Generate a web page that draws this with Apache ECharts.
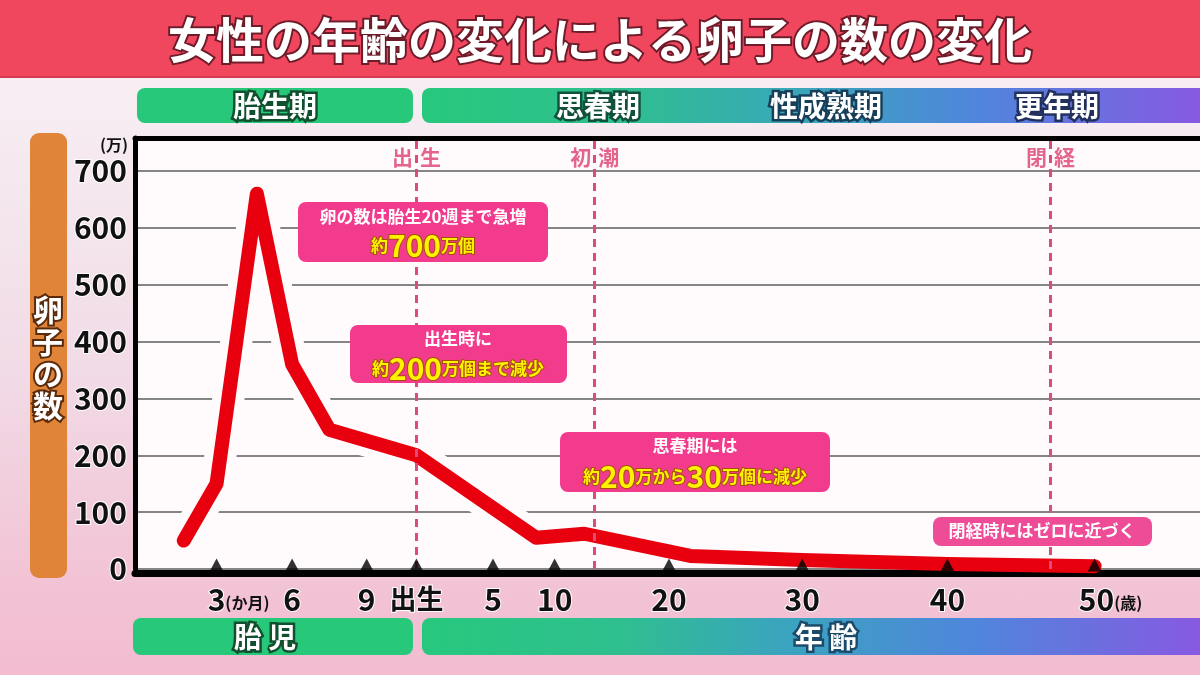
<!DOCTYPE html>
<html><head><meta charset="utf-8">
<script src="https://cdn.jsdelivr.net/npm/echarts@6/dist/echarts.min.js"></script>
<style>
html,body{margin:0;padding:0;}
#c{width:1200px;height:675px;background:linear-gradient(to bottom,#f8f0f4 0%,#f6ecf1 18%,#f1dbe6 55%,#f2c4d6 85%,#f3bcd0 100%);}
</style>
</head><body><div id="c"></div>
<script>
// ---- data ----
const prenatalMonths = [1.7, 3, 4.6, 6, 7.5];          // months of pregnancy
const prenatalEggs   = [50, 150, 660, 360, 245];       // 万個
const postnatalYears = [0, 8.5, 12.6, 21.6, 30, 40, 50]; // age in years
const postnatalEggs  = [200, 55, 62, 23, 16, 9, 5];     // 万個

const tickLabels = ['3', '6', '9', '出生', '5', '10', '20', '30', '40', '50'];
const tickPrenatalMonths = [3, 6, 9];
const tickYears = [0, 5, 10, 20, 30, 40, 50];

const eventLabels = ['出生', '初潮', '閉経'];
const eventYears  = [0, 13.5, 47];

const yTicks = [0, 100, 200, 300, 400, 500, 600, 700];

// ---- piecewise x scale of the original (age in years, prenatal negative) ----
const ageScale = {
  domain: [-10/12, -7/12, -4/12, -1/12, 0, 5, 10, 20, 30, 40, 50],
  range:  [6, 82, 158, 233, 283, 360, 422, 537, 671, 817, 965]
};
function toX(age) {
  const d = ageScale.domain, r = ageScale.range;
  if (age <= d[0]) return r[0];
  for (let i = 1; i < d.length; i++) {
    if (age <= d[i]) return r[i-1] + (age - d[i-1]) / (d[i] - d[i-1]) * (r[i] - r[i-1]);
  }
  const n = d.length - 1;
  return r[n] + (age - d[n]) / (d[n] - d[n-1]) * (r[n] - r[n-1]);
}
const monthToAge = m => (m - 10) / 12;

const lineData = prenatalMonths.map((m, i) => [toX(monthToAge(m)), prenatalEggs[i]])
  .concat(postnatalYears.map((y, i) => [toX(y), postnatalEggs[i]]));
const tickXs = tickPrenatalMonths.map(m => toX(monthToAge(m))).concat(tickYears.map(toX));

const NUM = "'Liberation Sans Narrow','Noto Sans CJK JP',sans-serif";
const JP = "'Noto Sans CJK JP','Noto Sans',sans-serif";
const PLOT_BG = '#fffbfd';
const XMAX = 1071;

function findTick(v) {
  let best = 0;
  for (let i = 0; i < tickXs.length; i++) if (Math.abs(tickXs[i] - v) < Math.abs(tickXs[best] - v)) best = i;
  return best;
}

const numStyle = {fontSize: 30, fontWeight: 'bold', fontFamily: NUM, color: '#111', textBorderColor: '#fff', textBorderWidth: 2};
const boxFill = '#f23b8c';
const yellow = {fill: '#fff200', stroke: '#a4500a', lineWidth: 2, fontFamily: JP, fontWeight: 'bold'};

function boxText(x, y, rich, text) {
  return {type: 'text', x: x, y: y, z: 51,
    style: {text: text, rich: rich, align: 'center', verticalAlign: 'middle'}};
}

const chart = echarts.init(document.getElementById('c'), null, {renderer: 'canvas'});
chart.setOption({
  animation: false,
  backgroundColor: 'transparent',
  grid: {left: 135, top: 138, right: -6, bottom: 106, show: true, backgroundColor: PLOT_BG, borderWidth: 0},
  xAxis: [{
    type: 'value', min: 0, max: XMAX, position: 'bottom', offset: 4,
    axisLine: {show: true, onZero: false, lineStyle: {color: '#000', width: 7}},
    axisTick: {show: false}, splitLine: {show: false},
    axisLabel: {
      customValues: tickXs, margin: 12,
      formatter: function (v) {
        const i = findTick(v), lab = tickLabels[i];
        if (i === 0) return '{pad1|}{n|' + lab + '}{u|(か月)}';
        if (i === tickLabels.length - 1) return '{pad2|}{n|' + lab + '}{u|(歳)}';
        if (lab === '出生') return '{c|' + lab + '}';
        return '{n|' + lab + '}';
      },
      rich: {
        n: numStyle,
        c: {fontSize: 27, fontWeight: 'bold', fontFamily: JP, color: '#111', textBorderColor: '#fff', textBorderWidth: 2},
        u: {fontSize: 16, fontWeight: 'bold', fontFamily: JP, color: '#111', padding: [6, 0, 0, 0]},
        pad1: {width: 44}, pad2: {width: 32}
      }
    }
  }, {
    type: 'value', min: 0, max: XMAX, position: 'top',
    axisLine: {show: true, onZero: false, lineStyle: {color: '#000', width: 5}},
    axisTick: {show: false}, axisLabel: {show: false}, splitLine: {show: false}
  }],
  yAxis: {
    type: 'value', min: 0, max: 758, interval: 100,
    axisLine: {show: true, onZero: false, lineStyle: {color: '#000', width: 5}},
    axisTick: {show: false},
    splitLine: {lineStyle: {color: '#858585', width: 2}},
    axisLabel: Object.assign({margin: 8, formatter: v => (yTicks.indexOf(v) >= 0 ? String(v) : '')}, numStyle)
  },
  series: [
    { // guide dashed lines
      type: 'line', data: lineData, z: 1, silent: true, showSymbol: false,
      lineStyle: {opacity: 0, width: 0},
      markLine: {
        symbol: 'none', silent: true, label: {show: false},
        lineStyle: {color: '#de4a7c', width: 3, type: [8, 6]},
        data: eventYears.map(a => ({xAxis: toX(a)}))
      }
    },
    { // halo under the curve
      type: 'line', data: lineData.slice(0, 7), z: 2, silent: true, showSymbol: false,
      lineStyle: {color: PLOT_BG, width: 32, cap: 'round', join: 'round'}
    },
    { // the curve
      type: 'line', data: lineData, z: 3, silent: true, showSymbol: false,
      lineStyle: {color: '#e8000e', width: 14, cap: 'round', join: 'round'}
    },
    { // tick triangles
      type: 'scatter', data: tickXs.map(x => [x, 0]), z: 5, silent: true,
      symbol: 'triangle', symbolSize: [14, 13], symbolOffset: [0, -4],
      itemStyle: {color: '#000'}
    },
    { // event labels
      type: 'scatter', z: 6, silent: true, symbolSize: 0,
      data: eventYears.map((a, i) => [toX(a), 725, eventLabels[i]]),
      label: {
        show: true, position: 'inside',
        formatter: p => '{a|' + p.value[2][0] + '}{g|}{a|' + p.value[2][1] + '}',
        rich: {a: {color: '#dd3f6f', fontSize: 21, fontWeight: 'bold', fontFamily: JP}, g: {width: 7}}
      }
    }
  ],
  graphic: [
    // title bar
    {type: 'rect', shape: {x: 0, y: 0, width: 1200, height: 78}, style: {fill: '#f1475e'}, z: 10},
    {type: 'rect', shape: {x: 0, y: 76, width: 1200, height: 2}, style: {fill: '#d63a50'}, z: 10},
    {type: 'text', x: 600, y: 40, z: 11, style: {text: '女性の年齢の変化による卵子の数の変化', fill: '#fff', stroke: '#6e1c2a', lineWidth: 4,
      font: 'bold 48px ' + JP, align: 'center', verticalAlign: 'middle'}},
    // stage bars (top)
    {type: 'rect', shape: {x: 137, y: 88, width: 276, height: 35, r: 8}, style: {fill: '#27c87a'}, z: 10},
    {type: 'rect', shape: {x: 422, y: 88, width: 790, height: 35, r: [8, 0, 0, 8]}, z: 10,
      style: {fill: {type: 'linear', x: 0, y: 0, x2: 1, y2: 0, colorStops: [
        {offset: 0, color: '#27c87d'}, {offset: 0.25, color: '#2fbf8f'}, {offset: 0.45, color: '#38aab5'},
        {offset: 0.7, color: '#4f86dc'}, {offset: 1, color: '#8a57e2'}]}}},
    {type: 'text', x: 275, y: 106, z: 11, style: {text: '胎生期', fill: '#fff', stroke: '#11502f', lineWidth: 5, font: 'bold 28px ' + JP, align: 'center', verticalAlign: 'middle'}},
    {type: 'text', x: 598, y: 106, z: 11, style: {text: '思春期', fill: '#fff', stroke: '#11503a', lineWidth: 5, font: 'bold 28px ' + JP, align: 'center', verticalAlign: 'middle'}},
    {type: 'text', x: 826, y: 106, z: 11, style: {text: '性成熟期', fill: '#fff', stroke: '#173f5a', lineWidth: 5, font: 'bold 28px ' + JP, align: 'center', verticalAlign: 'middle'}},
    {type: 'text', x: 1057, y: 106, z: 11, style: {text: '更年期', fill: '#fff', stroke: '#22305e', lineWidth: 5, font: 'bold 28px ' + JP, align: 'center', verticalAlign: 'middle'}},
    // bottom bars
    {type: 'rect', shape: {x: 133, y: 618, width: 280, height: 37, r: 8}, style: {fill: '#27c87a'}, z: 10},
    {type: 'rect', shape: {x: 422, y: 618, width: 790, height: 37, r: [8, 0, 0, 8]}, z: 10,
      style: {fill: {type: 'linear', x: 0, y: 0, x2: 1, y2: 0, colorStops: [
        {offset: 0, color: '#27c87d'}, {offset: 0.25, color: '#2fbf8f'}, {offset: 0.45, color: '#3aa5bd'},
        {offset: 0.7, color: '#4f86dc'}, {offset: 1, color: '#8a57e2'}]}}},
    {type: 'text', x: 265, y: 637, z: 11, style: {text: '胎 児', fill: '#fff', stroke: '#11502f', lineWidth: 5, font: 'bold 28px ' + JP, align: 'center', verticalAlign: 'middle'}},
    {type: 'text', x: 826, y: 637, z: 11, style: {text: '年 齢', fill: '#fff', stroke: '#1b4a6a', lineWidth: 5, font: 'bold 28px ' + JP, align: 'center', verticalAlign: 'middle'}},
    // y axis title bar
    {type: 'rect', shape: {x: 30, y: 133, width: 37, height: 445, r: 9}, style: {fill: '#e0843a'}, z: 10},
    {type: 'text', x: 48, y: 358, z: 11, style: {text: '卵\n子\nの\n数', fill: '#fff', stroke: '#5a2a0a', lineWidth: 4,
      font: 'bold 30px ' + JP, lineHeight: 32, align: 'center', verticalAlign: 'middle'}},
    {type: 'text', x: 128, y: 145, z: 11, style: {text: '(万)', fill: '#111', font: 'bold 16px ' + JP, align: 'right', verticalAlign: 'middle'}},
    // annotation boxes
    {type: 'rect', shape: {x: 298, y: 202, width: 250, height: 60, r: 8}, style: {fill: boxFill}, z: 50},
    boxText(423, 217, {w: {fill: '#fff', fontSize: 17, fontFamily: JP, fontWeight: 'bold'}}, '{w|卵の数は胎生20週まで急増}'),
    boxText(423, 246, {s: Object.assign({fontSize: 17}, yellow), b: Object.assign({fontSize: 30}, yellow)}, '{s|約}{b|700}{s|万個}'),
    {type: 'rect', shape: {x: 350, y: 325, width: 217, height: 58, r: 8}, style: {fill: boxFill}, z: 50},
    boxText(458, 339, {w: {fill: '#fff', fontSize: 17, fontFamily: JP, fontWeight: 'bold'}}, '{w|出生時に}'),
    boxText(458, 369, {s: Object.assign({fontSize: 17}, yellow), b: Object.assign({fontSize: 30}, yellow)}, '{s|約}{b|200}{s|万個まで減少}'),
    {type: 'rect', shape: {x: 560, y: 432, width: 270, height: 60, r: 8}, style: {fill: boxFill}, z: 50},
    boxText(695, 446, {w: {fill: '#fff', fontSize: 17, fontFamily: JP, fontWeight: 'bold'}}, '{w|思春期には}'),
    boxText(695, 477, {s: Object.assign({fontSize: 17}, yellow), b: Object.assign({fontSize: 30}, yellow)}, '{s|約}{b|20}{s|万から}{b|30}{s|万個に減少}'),
    {type: 'rect', shape: {x: 933, y: 517, width: 219, height: 29, r: 8}, style: {fill: '#ef4c98'}, z: 50},
    boxText(1042, 531, {w: {fill: '#fff', fontSize: 17, fontFamily: JP, fontWeight: 'bold'}}, '{w|閉経時にはゼロに近づく}')
  ]
});
</script></body></html>
